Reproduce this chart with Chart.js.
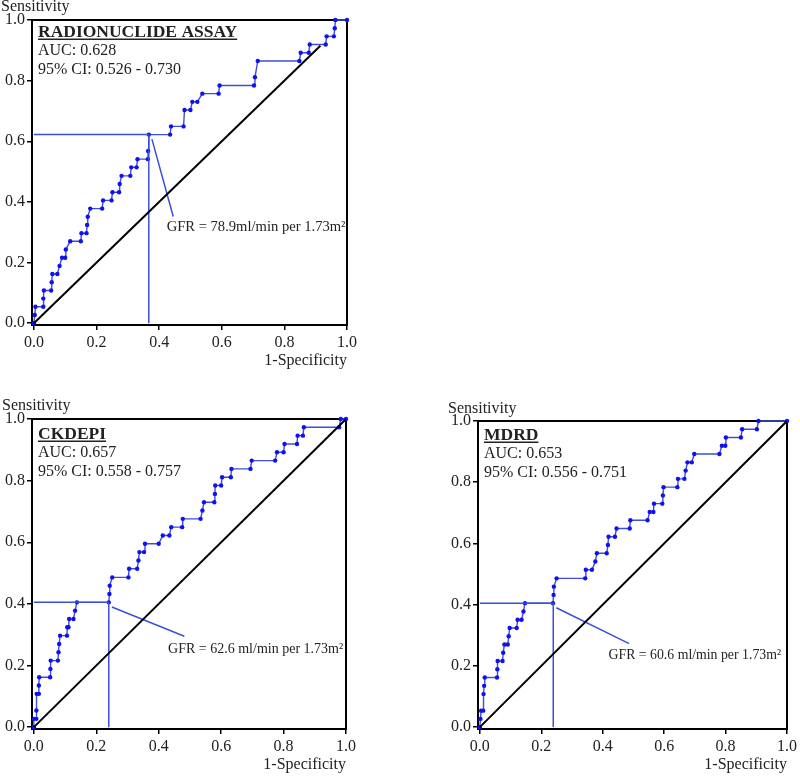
<!DOCTYPE html>
<html>
<head>
<meta charset="utf-8">
<script src="https://cdn.jsdelivr.net/npm/chart.js@4.4.0/dist/chart.umd.min.js"></script>
<style>
  html, body { margin: 0; padding: 0; background: #fff; }
  body { width: 800px; height: 776px; position: relative; overflow: hidden; }
  canvas { position: absolute; }
</style>
</head>
<body>
<canvas id="radio" width="360" height="372" style="left:0;top:0"></canvas>
<canvas id="ckd" width="360" height="381" style="left:0;top:395px"></canvas>
<canvas id="mdrd" width="354" height="381" style="left:446px;top:395px"></canvas>
<script>
// ROC curves: x = 1-specificity, y = sensitivity
var radioFpr = [0, 0.003, 0.005, 0.030, 0.030, 0.032, 0.055, 0.057, 0.059, 0.075, 0.082, 0.090, 0.100, 0.102,
  0.116, 0.150, 0.152, 0.168, 0.170, 0.172, 0.180, 0.218, 0.221, 0.248, 0.251, 0.272, 0.274, 0.280, 0.308,
  0.311, 0.328, 0.331, 0.364, 0.365, 0.367, 0.435, 0.438, 0.478, 0.481, 0.500, 0.506, 0.522, 0.538, 0.590,
  0.593, 0.703, 0.706, 0.715, 0.848, 0.852, 0.878, 0.881, 0.932, 0.935, 0.958, 0.961, 0.963, 1.000];
var radioSens = [0, 0.027, 0.054, 0.054, 0.081, 0.108, 0.108, 0.135, 0.162, 0.162, 0.189, 0.216, 0.216, 0.243,
  0.270, 0.270, 0.297, 0.297, 0.324, 0.351, 0.378, 0.378, 0.405, 0.405, 0.432, 0.432, 0.459, 0.486, 0.486,
  0.514, 0.514, 0.541, 0.541, 0.568, 0.622, 0.622, 0.649, 0.649, 0.703, 0.703, 0.730, 0.730, 0.757, 0.757,
  0.784, 0.784, 0.811, 0.865, 0.865, 0.892, 0.892, 0.919, 0.919, 0.946, 0.946, 0.973, 1.000, 1.000];

var ckdFpr = [0, 0, 0.008, 0.008, 0.009, 0.016, 0.016, 0.017, 0.052, 0.053, 0.054, 0.077, 0.079, 0.081, 0.084,
  0.106, 0.107, 0.111, 0.113, 0.127, 0.132, 0.138, 0.240, 0.242, 0.243, 0.251, 0.303, 0.305, 0.331, 0.335,
  0.338, 0.353, 0.356, 0.400, 0.413, 0.434, 0.440, 0.475, 0.477, 0.534, 0.540, 0.545, 0.578, 0.580, 0.581,
  0.600, 0.603, 0.631, 0.633, 0.694, 0.698, 0.773, 0.779, 0.800, 0.803, 0.843, 0.845, 0.862, 0.865, 0.978,
  0.983, 1.000];
var ckdSens = [0, 0.027, 0.027, 0.054, 0.108, 0.108, 0.135, 0.162, 0.162, 0.189, 0.216, 0.216, 0.243, 0.270,
  0.297, 0.297, 0.324, 0.324, 0.351, 0.351, 0.378, 0.405, 0.405, 0.432, 0.459, 0.486, 0.486, 0.514, 0.514,
  0.541, 0.568, 0.568, 0.595, 0.595, 0.622, 0.622, 0.649, 0.649, 0.676, 0.676, 0.703, 0.730, 0.730, 0.757,
  0.784, 0.784, 0.811, 0.811, 0.838, 0.838, 0.865, 0.865, 0.892, 0.892, 0.919, 0.919, 0.946, 0.946, 0.973,
  0.973, 1.000, 1.000];

var mdrdFpr = [0, 0.002, 0.004, 0.011, 0.012, 0.014, 0.016, 0.056, 0.057, 0.058, 0.074, 0.076, 0.080, 0.091,
  0.094, 0.097, 0.120, 0.123, 0.136, 0.142, 0.147, 0.238, 0.240, 0.241, 0.250, 0.343, 0.345, 0.365, 0.376,
  0.381, 0.413, 0.417, 0.419, 0.440, 0.445, 0.488, 0.490, 0.546, 0.553, 0.565, 0.567, 0.594, 0.596, 0.598,
  0.643, 0.645, 0.666, 0.670, 0.676, 0.690, 0.698, 0.780, 0.788, 0.799, 0.801, 0.850, 0.854, 0.902, 0.907,
  1.000];
var mdrdSens = [0, 0.027, 0.054, 0.054, 0.108, 0.135, 0.162, 0.162, 0.189, 0.216, 0.216, 0.243, 0.270, 0.270,
  0.297, 0.324, 0.324, 0.351, 0.351, 0.378, 0.405, 0.405, 0.432, 0.459, 0.486, 0.486, 0.514, 0.514, 0.541,
  0.568, 0.568, 0.595, 0.622, 0.622, 0.649, 0.649, 0.676, 0.676, 0.703, 0.703, 0.730, 0.730, 0.757, 0.784,
  0.784, 0.811, 0.811, 0.838, 0.865, 0.865, 0.892, 0.892, 0.919, 0.919, 0.946, 0.946, 0.973, 0.973, 1.000,
  1.000];

// panel texts and cut-off points
var panelNames = ['RADIONUCLIDE ASSAY', 'CKDEPI', 'MDRD'];
var aucValues = ['0.628', '0.657', '0.653'];
var ciLow = ['0.526', '0.558', '0.556'];
var ciHigh = ['0.730', '0.757', '0.751'];
var gfrLabels = ['GFR = 78.9ml/min per 1.73m\u00b2', 'GFR = 62.6 ml/min per 1.73m\u00b2', 'GFR = 60.6 ml/min per 1.73m\u00b2'];
var cutFpr = [0.367, 0.240, 0.239];
var cutSens = [0.622, 0.405, 0.405];
var diagEnd = [0.915, 1, 1];
var tickValues = [0, 0.2, 0.4, 0.6, 0.8, 1.0];

var serif = '"Liberation Serif", "Times New Roman", serif';
var curveLine = '#3d4fd8';
var dotColor = '#1010f0';

function pts(xs, ys) {
  return xs.map(function (x, i) { return { x: x, y: ys[i] }; });
}

var rocText = {
  id: 'rocText',
  beforeDatasetsDraw: function (chart) {
    var a = chart.chartArea, ctx = chart.ctx;
    ctx.save();
    ctx.strokeStyle = '#000';
    ctx.lineWidth = 2;
    ctx.strokeRect(a.left, a.top, a.right - a.left, a.bottom - a.top);
    ctx.restore();
  },
  afterDraw: function (chart, args, o) {
    var ctx = chart.ctx, a = chart.chartArea, sx = chart.scales.x, sy = chart.scales.y;
    var i = o.idx;
    ctx.save();
    ctx.fillStyle = '#222';
    ctx.textAlign = 'left';
    ctx.textBaseline = 'alphabetic';
    ctx.font = '16px ' + serif;
    ctx.fillText('Sensitivity', o.sensX, o.sensY);
    ctx.font = 'bold 17.5px ' + serif;
    ctx.fillText(panelNames[i], a.left + 6, a.top + o.textTop);
    var w = ctx.measureText(panelNames[i]).width;
    ctx.fillRect(a.left + 6, a.top + o.textTop + 1.5, w, 1.5);
    ctx.font = '16px ' + serif;
    ctx.fillText('AUC: ' + aucValues[i], a.left + 6, a.top + o.textTop + 18);
    ctx.fillText('95% CI: ' + ciLow[i] + ' - ' + ciHigh[i], a.left + 6, a.top + o.textTop + 37);
    ctx.font = o.gfrSize + 'px ' + serif;
    ctx.textBaseline = 'middle';
    ctx.fillText(gfrLabels[i], sx.getPixelForValue(o.textAt[0]), sy.getPixelForValue(o.textAt[1]));
    ctx.restore();
  }
};

function makeRoc(id, idx, fpr, sens, lay) {
  var cx = cutFpr[idx], cy = cutSens[idx];
  new Chart(document.getElementById(id), {
    type: 'scatter',
    data: {
      datasets: [
        { data: [{ x: 0, y: 0 }, { x: diagEnd[idx], y: diagEnd[idx] }], showLine: true, borderColor: '#000',
          borderWidth: 2, pointRadius: 0 },
        { data: [{ x: 0, y: cy }, { x: cx, y: cy }], showLine: true, borderColor: curveLine, borderWidth: 1.5, pointRadius: 0 },
        { data: [{ x: cx, y: 0 }, { x: cx, y: cy }], showLine: true, borderColor: curveLine, borderWidth: 1.5, pointRadius: 0 },
        { data: [{ x: cx + 0.01, y: cy - 0.015 }, { x: lay.leaderEnd[0], y: lay.leaderEnd[1] }], showLine: true,
          borderColor: curveLine, borderWidth: 1.5, pointRadius: 0 },
        { data: pts(fpr, sens), showLine: true, borderColor: curveLine, borderWidth: 1.4, pointRadius: 2.2,
          pointBackgroundColor: dotColor, pointBorderWidth: 0, clip: 4 }
      ]
    },
    options: {
      responsive: false,
      animation: false,
      devicePixelRatio: 1,
      layout: { padding: { top: lay.top, right: lay.right, left: 0, bottom: 0 } },
      plugins: { legend: { display: false }, tooltip: { enabled: false }, rocText: { idx: idx,
        sensX: lay.sensX, sensY: lay.sensY, textTop: lay.textTop, textAt: lay.textAt, gfrSize: lay.gfrSize } },
      scales: {
        x: {
          type: 'linear', min: -0.006, max: 1.0,
          afterBuildTicks: function (s) { s.ticks = tickValues.map(function (v) { return { value: v }; }); },
          afterFit: function (s) { s.height = 47; },
          ticks: { padding: 3, color: '#222', font: { family: serif, size: 16 },
            callback: function (v) { return v.toFixed(1); } },
          grid: { drawOnChartArea: false, tickLength: 5, color: '#000', lineWidth: 1.5 },
          border: { display: true, color: '#000', width: 2 },
          title: { display: true, text: '1-Specificity', align: 'end', color: '#222',
            font: { family: serif, size: 16 }, padding: { top: 0, bottom: 2 } }
        },
        y: {
          type: 'linear', min: -0.006, max: 1.0,
          afterBuildTicks: function (s) { s.ticks = tickValues.map(function (v) { return { value: v }; }); },
          afterFit: function (s) { s.width = 32; },
          ticks: { padding: 2, color: '#222', font: { family: serif, size: 16 },
            callback: function (v) { return v.toFixed(1); } },
          grid: { drawOnChartArea: false, tickLength: 5, color: '#000', lineWidth: 1.5 },
          border: { display: true, color: '#000', width: 2 }
        }
      }
    },
    plugins: [rocText]
  });
}

makeRoc('radio', 0, radioFpr, radioSens,
  { top: 20, right: 12, sensX: 1, sensY: 11, textTop: 17, gfrSize: 14.6, leaderEnd: [0.445, 0.352], textAt: [0.424, 0.317] });
makeRoc('ckd', 1, ckdFpr, ckdSens,
  { top: 24, right: 14, sensX: 2, sensY: 15, textTop: 20, gfrSize: 14, leaderEnd: [0.482, 0.295], textAt: [0.43, 0.252] });
makeRoc('mdrd', 2, mdrdFpr, mdrdSens,
  { top: 26, right: 7, sensX: 2, sensY: 18, textTop: 19, gfrSize: 13.8, leaderEnd: [0.486, 0.273], textAt: [0.419, 0.236] });
</script>
</body>
</html>
